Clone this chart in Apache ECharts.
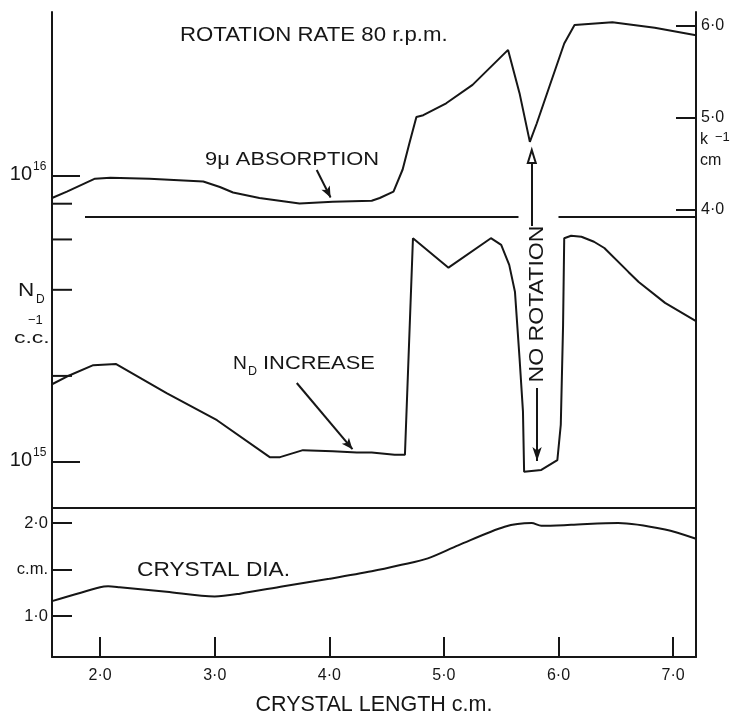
<!DOCTYPE html>
<html>
<head>
<meta charset="utf-8">
<script src="https://cdn.jsdelivr.net/npm/echarts@6/dist/echarts.min.js"></script>
<style>
  html, body { margin: 0; padding: 0; background: #fff; }
  #chart { width: 743px; height: 715px; }
</style>
</head>
<body>
<div id="chart"></div>
<script>
// Tick positions
const LENGTH_TICKS = [2, 3, 4, 5, 6, 7];
const K_TICKS = [4, 5, 6];
const DIA_TICKS = [1, 1.5, 2];
const ND_TICKS = [1e15, 2e15, 4e15, 6e15, 8e15, 1e16];

// 9 µ absorption coefficient k (cm^-1) along the crystal (cm)
const absorptionX = [1.58, 1.71, 1.955, 2.09, 2.43, 2.90, 3.045, 3.16, 3.39, 3.74, 4.03, 4.37, 4.44, 4.56, 4.64, 4.70, 4.76, 4.82, 5.02, 5.25, 5.56, 5.66, 5.75, 5.81, 5.92, 6.05, 6.14, 6.47, 6.84, 7.2];
const absorptionK = [4.13, 4.20, 4.34, 4.35, 4.34, 4.31, 4.25, 4.19, 4.13, 4.07, 4.09, 4.10, 4.13, 4.20, 4.44, 4.73, 5.01, 5.03, 5.16, 5.36, 5.74, 5.27, 4.74, 4.94, 5.34, 5.81, 6.01, 6.04, 5.98, 5.90];

// Donor concentration N_D (cm^-3)
const ndX = [1.58, 1.71, 1.94, 2.14, 2.58, 3.02, 3.48, 3.57, 3.77, 4.03, 4.24, 4.37, 4.57, 4.66, 4.73, 5.04, 5.41, 5.50, 5.57, 5.62, 5.66, 5.69, 5.70, 5.85, 5.99, 6.02, 6.04, 6.05, 6.11, 6.20, 6.31, 6.40, 6.61, 6.70, 6.93, 7.2];
const ndValues = [1.87e15, 1.99e15, 2.18e15, 2.20e15, 1.74e15, 1.40e15, 1.04e15, 1.04e15, 1.10e15, 1.09e15, 1.08e15, 1.08e15, 1.06e15, 1.06e15, 6.06e15, 4.78e15, 6.06e15, 5.74e15, 4.89e15, 3.94e15, 2.31e15, 1.50e15, 0.925e15, 0.938e15, 1.016e15, 1.35e15, 3.01e15, 6.06e15, 6.18e15, 6.13e15, 5.89e15, 5.60e15, 4.62e15, 4.26e15, 3.60e15, 3.11e15];

// Crystal diameter (cm)
const diaX = [1.58, 2.0, 2.07, 2.17, 2.58, 3.0, 3.22, 3.6, 4.0, 4.37, 4.63, 4.86, 5.125, 5.53, 5.765, 5.85, 6.11, 6.52, 6.93, 7.2];
const diaValues = [1.16, 1.31, 1.32, 1.31, 1.26, 1.21, 1.24, 1.32, 1.40, 1.48, 1.55, 1.62, 1.76, 1.96, 2.00, 1.97, 1.98, 2.00, 1.93, 1.83];

const INK = '#161616';
const FONT = '"Liberation Sans", Arial, Helvetica, sans-serif';
const X_MIN = 1.58, X_MAX = 7.2;
const dot = v => v.toFixed(1).replace('.', '\u00b7');

const pairs = (xs, ys) => xs.map((x, i) => [x, ys[i]]);

// free-standing label; sx stretches the lettering horizontally
const txt = (text, x, y, size, opts) => {
  opts = opts || {};
  const el = {
    type: 'text', x: x, y: y, silent: true,
    scaleX: opts.sx || 1,
    style: { text: text, fill: INK, font: size + 'px ' + FONT, align: opts.align || 'left', verticalAlign: 'middle' }
  };
  if (opts.rotation != null) el.rotation = opts.rotation;
  return el;
};

const chart = echarts.init(document.getElementById('chart'), null, { renderer: 'canvas' });

const option = {
  animation: false,
  backgroundColor: '#ffffff',
  grid: { left: 52, right: 47, top: 12, bottom: 58, outerBoundsMode: 'none' },
  xAxis: {
    type: 'value', min: X_MIN, max: X_MAX, position: 'bottom',
    axisLine: { show: true, onZero: false, lineStyle: { color: INK, width: 2 } },
    axisTick: { show: true, inside: true, length: 20, customValues: LENGTH_TICKS, lineStyle: { color: INK, width: 2 } },
    axisLabel: { customValues: LENGTH_TICKS, formatter: dot, margin: 11, color: INK, fontSize: 16, fontFamily: FONT },
    splitLine: { show: false },
    name: 'CRYSTAL LENGTH c.m.', nameLocation: 'middle', nameGap: 37,
    nameTextStyle: { color: INK, fontSize: 21.5, fontFamily: FONT }
  },
  yAxis: [
    { // N_D, logarithmic
      type: 'log', logBase: 10, position: 'left',
      min: Math.pow(10, 14.3182), max: Math.pow(10, 16.5734),
      axisLine: { show: true, onZero: false, lineStyle: { color: INK, width: 2 } },
      axisTick: { show: false }, axisLabel: { show: false }, splitLine: { show: false }
    },
    { // absorption k, cm^-1
      type: 'value', position: 'right', min: -0.859, max: 6.152,
      axisLine: { show: true, onZero: false, lineStyle: { color: INK, width: 2 } },
      axisTick: { show: true, inside: true, length: 20, customValues: K_TICKS, lineStyle: { color: INK, width: 2 } },
      axisLabel: { customValues: K_TICKS, formatter: dot, margin: 5, color: INK, fontSize: 16, fontFamily: FONT },
      splitLine: { show: false }
    },
    { // crystal diameter, cm
      type: 'value', position: 'left', min: 0.559, max: 7.495,
      axisLine: { show: false, onZero: false },
      axisTick: { show: true, inside: true, length: 20, customValues: DIA_TICKS, lineStyle: { color: INK, width: 2 } },
      axisLabel: { customValues: DIA_TICKS, formatter: v => (v === 1.5 ? 'c.m.' : dot(v)), margin: 4, color: INK, fontSize: 16.5, fontFamily: FONT },
      splitLine: { show: false }
    }
  ],
  series: [
    {
      name: '9\u03bc absorption', type: 'line', xAxisIndex: 0, yAxisIndex: 1,
      data: pairs(absorptionX, absorptionK),
      showSymbol: false, smooth: false,
      lineStyle: { color: INK, width: 2 }, itemStyle: { color: INK },
      markLine: {
        silent: true, symbol: ['none', 'none'], label: { show: false },
        lineStyle: { color: INK, width: 2, type: 'solid' },
        emphasis: { disabled: true },
        data: [
          [{ coord: [1.868, 3.925] }, { coord: [5.651, 3.925] }],
          [{ coord: [6.0, 3.925] }, { coord: [X_MAX, 3.925] }],
          [{ coord: [3.89, 4.435], symbol: 'none' }, { coord: [4.011, 4.136], symbol: 'arrow', symbolSize: [7, 11] }],
          [{ coord: [5.767, 3.826], symbol: 'none' }, { coord: [5.767, 4.582], symbol: 'emptyTriangle', symbolSize: [8, 13] }]
        ]
      }
    },
    {
      name: 'N_D', type: 'line', xAxisIndex: 0, yAxisIndex: 0,
      data: pairs(ndX, ndValues),
      showSymbol: false, smooth: false,
      lineStyle: { color: INK, width: 2 }, itemStyle: { color: INK },
      markLine: {
        silent: true, symbol: ['none', 'none'], label: { show: false },
        lineStyle: { color: INK, width: 2, type: 'solid' },
        emphasis: { disabled: true },
        data: [
          [{ coord: [3.716, 1.889e15], symbol: 'none' }, { coord: [4.202, 1.109e15], symbol: 'arrow', symbolSize: [7, 11] }],
          [{ coord: [5.813, 1.814e15], symbol: 'none' }, { coord: [5.813, 1.008e15], symbol: 'arrow', symbolSize: [7, 14] }]
        ]
      }
    },
    {
      name: 'crystal diameter', type: 'line', xAxisIndex: 0, yAxisIndex: 2,
      data: pairs(diaX, diaValues),
      showSymbol: false, smooth: 0.3,
      lineStyle: { color: INK, width: 2 }, itemStyle: { color: INK },
      markLine: {
        silent: true, symbol: ['none', 'none'], label: { show: false },
        lineStyle: { color: INK, width: 2, type: 'solid' },
        emphasis: { disabled: true },
        data: [[{ coord: [X_MIN, 2.161] }, { coord: [X_MAX, 2.161] }]]
      }
    },
    { // tick marks and power-of-ten labels on the N_D log axis
      type: 'custom', xAxisIndex: 0, yAxisIndex: 0, silent: true, clip: false, z: 4,
      data: ND_TICKS.map(v => [X_MIN, v]),
      renderItem: (params, api) => {
        const v = api.value(1);
        const p = api.coord([api.value(0), v]);
        const major = Math.abs(Math.log10(v) - Math.round(Math.log10(v))) < 1e-9;
        const children = [{
          type: 'line',
          shape: { x1: p[0], y1: p[1], x2: p[0] + (major ? 28 : 20), y2: p[1] },
          style: { stroke: INK, lineWidth: 2 }
        }];
        if (major) {
          children.push({ type: 'text', x: p[0] - 20, y: p[1] - 2,
            style: { text: '10', fill: INK, font: '20px ' + FONT, align: 'right', verticalAlign: 'middle' } });
          children.push({ type: 'text', x: p[0] - 19, y: p[1] - 9,
            style: { text: String(Math.round(Math.log10(v))), fill: INK, font: '12px ' + FONT, align: 'left', verticalAlign: 'middle' } });
        }
        return { type: 'group', children: children };
      }
    }
  ],
  graphic: [
    txt('ROTATION RATE 80 r.p.m.', 180, 35, 20, { sx: 1.11 }),
    txt('9\u03bc ABSORPTION', 205, 160, 19, { sx: 1.15 }),
    txt('N', 233, 364, 17.5, { sx: 1.1 }),
    txt('D', 248, 372, 12.5),
    txt('INCREASE', 263, 364, 17.5, { sx: 1.25 }),
    txt('NO ROTATION', 537, 304, 21, { rotation: Math.PI / 2, align: 'center', sx: 1.1 }),
    txt('CRYSTAL DIA.', 137, 570, 20, { sx: 1.135 }),
    txt('N', 18, 291, 18, { sx: 1.25 }),
    txt('D', 36, 300, 12),
    txt('\u22121', 28, 320, 13),
    txt('c.c.', 14, 338, 17, { sx: 1.35 }),
    txt('k', 700, 140, 16),
    txt('\u22121', 715, 137, 13),
    txt('cm', 700, 161, 16)
  ]
};

chart.setOption(option);
</script>
</body>
</html>
